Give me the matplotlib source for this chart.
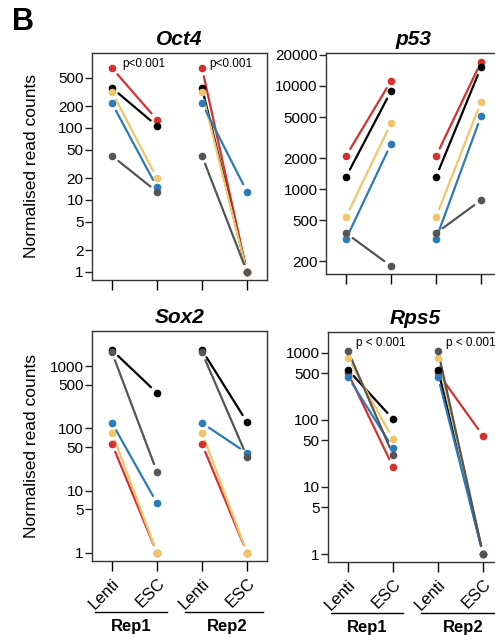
import numpy as np
import matplotlib
matplotlib.use('Agg')
import matplotlib.pyplot as plt
import matplotlib.transforms as mtransforms

plt.rcParams['font.family'] = ['Liberation Sans', 'DejaVu Sans']

# series order: red, black, yellow, blue, grey
colors = ['#d7312f', '#000000', '#f3c56b', '#2b7bba', '#555555']
x_labels = ['Lenti', 'ESC', 'Lenti', 'ESC']

# Oct4
oct4_lenti = [680, 360, 315, 220, 41]
oct4_rep1_esc = [130, 107, 20, 15, 13]
oct4_rep2_esc = [1, 1, 1, 13, 1]
oct4_ticks = [1, 2, 5, 10, 20, 50, 100, 200, 500]

# p53
p53_lenti = [2090, 1310, 535, 327, 374]
p53_rep1_esc = [11200, 8900, 4370, 2740, 179]
p53_rep2_esc = [17100, 15200, 7000, 5100, 780]
p53_ticks = [200, 500, 1000, 2000, 5000, 10000, 20000]

# Sox2
sox2_lenti = [56, 1800, 85, 122, 1650]
sox2_rep1_esc = [1, 370, 1, 6.3, 20]
sox2_rep2_esc = [1, 126, 1, 40, 35]
sox2_ticks = [1, 5, 10, 50, 100, 500, 1000]

# Rps5
rps5_lenti = [500, 560, 850, 440, 1070]
rps5_rep1_esc = [20, 103, 52, 38, 30]
rps5_rep2_esc = [58, 1, 1, 1, 1]
rps5_ticks = [1, 5, 10, 50, 100, 500, 1000]

fig = plt.figure(figsize=(4.95, 6.35), dpi=100)
W, H = 495, 635


def add_axes(left, top, right, bottom):
    return fig.add_axes([left / W, 1 - bottom / H, (right - left) / W, (bottom - top) / H])


def draw_panel(ax, title, lenti, rep1, rep2, ticks, ylim, pvals=None, show_xlabels=False, ylabel=False):
    ax.set_yscale('log')
    for k, c in enumerate(colors):
        for x0, x1, ys in [(0, 1, rep1), (2, 3, rep2)]:
            ax.annotate('', xy=(x1, ys[k]), xytext=(x0, lenti[k]),
                        arrowprops=dict(arrowstyle='-', color=c, lw=1.6,
                                        shrinkA=6, shrinkB=6))
    for k, c in enumerate(colors):
        ax.plot([0, 1, 2, 3], [lenti[k], rep1[k], lenti[k], rep2[k]], 'o',
                color=c, markersize=4.5, linestyle='none', zorder=3, clip_on=False)
    ax.set_xlim(-0.444, 3.444)
    ax.set_ylim(*ylim)
    ax.set_yticks(ticks)
    ax.set_yticklabels([str(t) for t in ticks])
    ax.yaxis.set_minor_locator(matplotlib.ticker.NullLocator())
    ax.set_xticks([0, 1, 2, 3])
    ax.tick_params(axis='y', labelsize=11, length=5, width=1, pad=1, colors='#222222')
    ax.tick_params(axis='x', length=7, width=1, direction='out')
    ax.tick_params(labelcolor='black')
    for s in ax.spines.values():
        s.set_color('#333333')
        s.set_linewidth(1)
    ax.set_title(title, fontsize=15, fontweight='bold', style='italic', pad=6)
    if ylabel:
        ax.set_ylabel('Normalised read counts', fontsize=12.5)
        ax.yaxis.set_label_coords(-0.30, 0.5)
    if pvals:
        for xp, txt in pvals:
            ax.text(xp, 0.95, txt, transform=mtransforms.blended_transform_factory(ax.transData, ax.transAxes),
                    fontsize=8.5, va='center', ha='left')
    if show_xlabels:
        ax.set_xticklabels(x_labels, rotation=45, ha='right', rotation_mode='anchor', fontsize=12)
        trans = mtransforms.blended_transform_factory(ax.transData, ax.transAxes)
        for (a, b), lab in [((-0.38, 1.22), 'Rep1'), ((1.62, 3.35), 'Rep2')]:
            ax.plot([a, b], [-0.222, -0.222], color='black', lw=1, transform=trans, clip_on=False)
            ax.text((a + b) / 2 if b < 3.3 else 2.55, -0.285, lab, transform=trans, ha='center', va='center',
                    fontsize=12, fontweight='bold')
    else:
        ax.set_xticklabels([])


ax1 = add_axes(92, 53, 267, 280)
draw_panel(ax1, 'Oct4', oct4_lenti, oct4_rep1_esc, oct4_rep2_esc, oct4_ticks, (0.774, 1100),
           pvals=[(0.22, 'p<0.001'), (2.16, 'p<0.001')], ylabel=True)

ax2 = add_axes(326, 53, 501, 274)
draw_panel(ax2, 'p53', p53_lenti, p53_rep1_esc, p53_rep2_esc, p53_ticks, (150, 20900))

ax3 = add_axes(92, 331, 267, 561)
draw_panel(ax3, 'Sox2', sox2_lenti, sox2_rep1_esc, sox2_rep2_esc, sox2_ticks, (0.744, 3650),
           show_xlabels=True, ylabel=True)

ax4 = add_axes(328, 332, 503, 562)
draw_panel(ax4, 'Rps5', rps5_lenti, rps5_rep1_esc, rps5_rep2_esc, rps5_ticks, (0.76, 2050),
           pvals=[(0.18, 'p < 0.001'), (2.18, 'p < 0.001')], show_xlabels=True)

fig.text(12 / W, 1 - 22 / H, 'B', fontsize=22, fontweight='bold', va='center', ha='left')

fig.savefig('out.png', dpi=100)
